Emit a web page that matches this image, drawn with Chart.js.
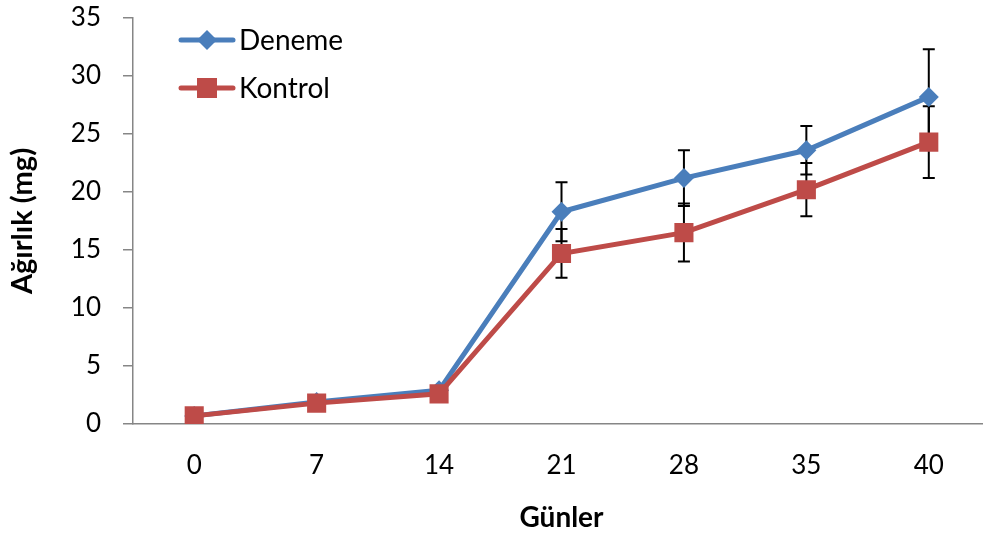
<!DOCTYPE html>
<html>
<head>
<meta charset="utf-8">
<script src="https://cdn.jsdelivr.net/npm/chart.js@4"></script>
<style>
    html, body { margin: 0; padding: 0; background: #ffffff; overflow: hidden; }
    #wrap { width: 990px; height: 536px; }
</style>
</head>
<body>
<div id="wrap"><canvas id="weightChart" width="990" height="536"></canvas></div>
<script>
// Chart data
const days = ['0', '7', '14', '21', '28', '35', '40'];
const deneme = [0.7, 1.9, 2.9, 18.3, 21.2, 23.6, 28.2];
const kontrol = [0.7, 1.8, 2.6, 14.7, 16.5, 20.2, 24.3];
const denemeErr = [0.1, 0.2, 0.3, 2.55, 2.4, 2.1, 4.1];
const kontrolErr = [0.1, 0.2, 0.3, 2.1, 2.5, 2.3, 3.1];
const yTicks = [0, 5, 10, 15, 20, 25, 30, 35];

const FONT = "Lato, 'Open Sans', sans-serif";
const BLUE = '#4a7ebb';
const RED = '#be4b48';
const AXIS = '#868686';

// Error bars, drawn under the lines and markers
const errorBars = {
    id: 'errorBars',
    beforeDatasetsDraw(chart) {
        const ctx = chart.ctx;
        const x = chart.scales.x;
        const y = chart.scales.y;
        const sets = [[deneme, denemeErr], [kontrol, kontrolErr]];
        ctx.save();
        ctx.strokeStyle = '#000000';
        ctx.lineWidth = 2;
        sets.forEach(([vals, errs]) => {
            vals.forEach((v, i) => {
                const px = x.getPixelForValue(i);
                const top = y.getPixelForValue(v + errs[i]);
                const bot = y.getPixelForValue(v - errs[i]);
                ctx.beginPath();
                ctx.moveTo(px, top);
                ctx.lineTo(px, bot);
                ctx.moveTo(px - 6, top);
                ctx.lineTo(px + 6, top);
                ctx.moveTo(px - 6, bot);
                ctx.lineTo(px + 6, bot);
                ctx.stroke();
            });
        });
        ctx.restore();
    }
};

// Legend inside the plot, line + marker like the original
const lineLegend = {
    id: 'lineLegend',
    afterDraw(chart) {
        const ctx = chart.ctx;
        const items = [
            { label: 'Deneme', color: BLUE, y: 40, marker: 'diamond' },
            { label: 'Kontrol', color: RED, y: 88, marker: 'square' }
        ];
        ctx.save();
        items.forEach(item => {
            ctx.strokeStyle = item.color;
            ctx.fillStyle = item.color;
            ctx.lineWidth = 5;
            ctx.lineCap = 'round';
            ctx.beginPath();
            ctx.moveTo(181, item.y);
            ctx.lineTo(233, item.y);
            ctx.stroke();
            ctx.beginPath();
            if (item.marker === 'diamond') {
                ctx.moveTo(207, item.y - 10);
                ctx.lineTo(217, item.y);
                ctx.lineTo(207, item.y + 10);
                ctx.lineTo(197, item.y);
                ctx.closePath();
            } else {
                ctx.rect(197, item.y - 10, 20, 20);
            }
            ctx.fill();
            ctx.fillStyle = '#000000';
            ctx.font = '28px ' + FONT;
            ctx.textAlign = 'left';
            ctx.textBaseline = 'middle';
            ctx.fillText(item.label, 239, item.y + 1);
        });
        ctx.restore();
    }
};

const ctx = document.getElementById('weightChart').getContext('2d');

new Chart(ctx, {
    type: 'line',
    data: {
        labels: days,
        datasets: [{
            label: 'Deneme',
            data: deneme,
            borderColor: BLUE,
            backgroundColor: BLUE,
            borderWidth: 5,
            pointStyle: 'rectRot',
            pointRadius: 10,
            pointBorderWidth: 0,
            tension: 0,
            order: 1
        }, {
            label: 'Kontrol',
            data: kontrol,
            borderColor: RED,
            backgroundColor: RED,
            borderWidth: 5,
            pointStyle: 'rect',
            pointRadius: 13.5,
            pointBorderWidth: 0,
            tension: 0,
            order: 0
        }]
    },
    options: {
        responsive: false,
        animation: false,
        devicePixelRatio: 1,
        layout: {
            autoPadding: false,
            padding: { top: 18, left: 0, right: 0, bottom: 0 }
        },
        plugins: {
            legend: { display: false },
            tooltip: { enabled: false }
        },
        scales: {
            x: {
                offset: true,
                grid: { display: false, drawTicks: false },
                border: { display: true, color: AXIS, width: 1.5 },
                ticks: {
                    color: '#000000',
                    font: { family: FONT, size: 26 },
                    padding: 26,
                    maxRotation: 0
                },
                title: {
                    display: true,
                    text: 'Günler',
                    color: '#000000',
                    font: { family: FONT, size: 28, weight: 'bold' },
                    padding: { top: 0, bottom: 1 }
                },
                afterFit(scale) {
                    scale.height = 112;
                    scale.paddingLeft = 0;
                    scale.paddingRight = 0;
                }
            },
            y: {
                min: 0,
                max: 35,
                afterBuildTicks(scale) {
                    scale.ticks = yTicks.map(v => ({ value: v }));
                },
                grid: {
                    drawOnChartArea: false,
                    drawTicks: true,
                    tickLength: 10,
                    color: AXIS,
                    lineWidth: 1.5
                },
                border: { display: true, color: AXIS, width: 1.5 },
                ticks: {
                    color: '#000000',
                    font: { family: FONT, size: 26 },
                    padding: 22
                },
                title: {
                    display: true,
                    text: 'Ağırlık (mg)',
                    color: '#000000',
                    font: { family: FONT, size: 29, weight: 'bold' },
                    padding: { top: 5, bottom: 0 }
                },
                afterFit(scale) {
                    scale.width = 133;
                    scale.paddingTop = 0;
                    scale.paddingBottom = 0;
                }
            }
        }
    },
    plugins: [errorBars, lineLegend]
});
</script>
</body>
</html>
